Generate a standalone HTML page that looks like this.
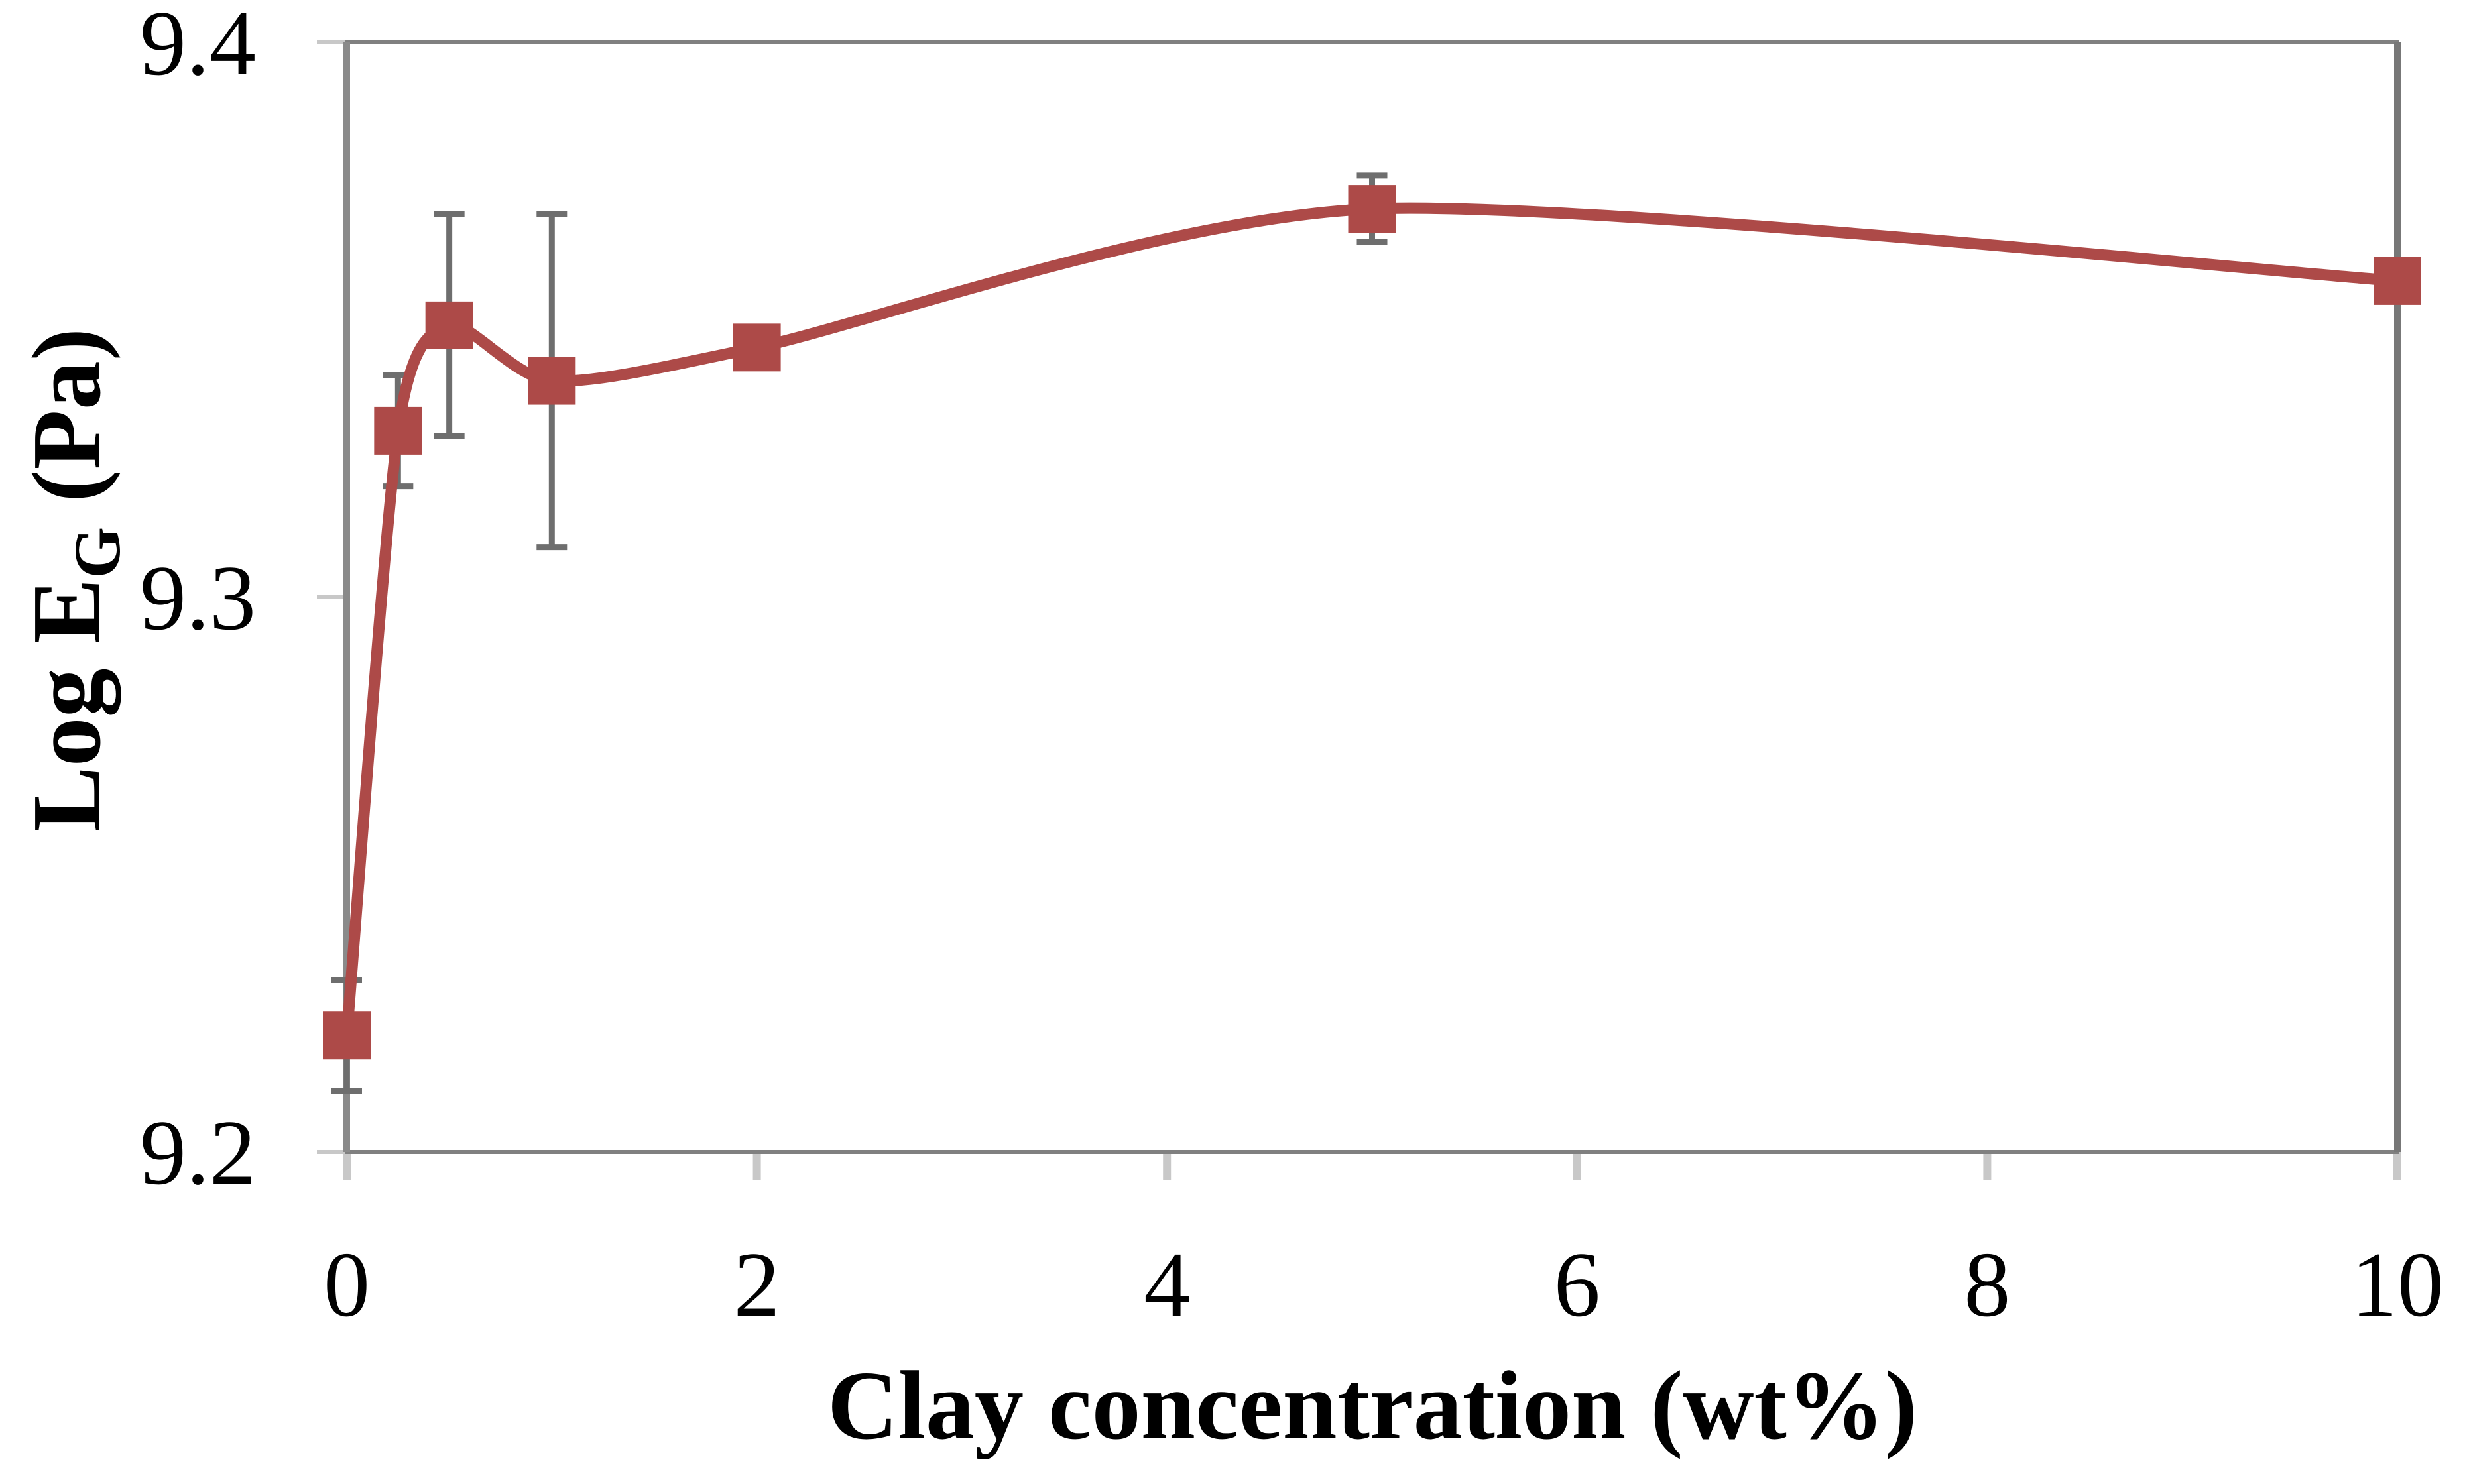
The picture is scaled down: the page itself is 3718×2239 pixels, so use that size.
<!DOCTYPE html>
<html><head><meta charset="utf-8"><style>
html,body{margin:0;padding:0;background:#fff;}
svg{display:block;}
</style></head><body>
<svg id="chart" width="3718" height="2239" viewBox="0 0 3718 2239" xmlns="http://www.w3.org/2000/svg">
<rect x="0" y="0" width="3718" height="2239" fill="#fff"/>
<g id="axes"></g>
<g id="series"></g>
<text x="2070" y="2170" text-anchor="middle" font-family="Liberation Serif, serif" font-weight="bold" font-size="148" fill="#000">Clay concentration (wt%)</text>
<text transform="translate(150,875) rotate(-90)" text-anchor="middle" font-family="Liberation Serif, serif" font-weight="bold" font-size="148" fill="#000">Log E<tspan font-size="100" dy="30">G</tspan><tspan dy="-30"> (Pa)</tspan></text>
</svg>
<script>
const xValues = [0, 0.25, 0.5, 1, 2, 5, 10];
const yValues = [9.221, 9.33, 9.349, 9.339, 9.345, 9.37, 9.357];
const yErrors = [0.01, 0.01, 0.02, 0.03, 0, 0.006, 0];
const xTicks = [0, 2, 4, 6, 8, 10];
const yTicks = [9.2, 9.3, 9.4];
const yTickLabels = ["9.2", "9.3", "9.4"];

const L=523, R=3616, T=64, B=1738;
const xMin=0, xMax=10, yMin=9.2, yMax=9.4;
function sx(v){return L+(v-xMin)/(xMax-xMin)*(R-L);}
function sy(v){return B-(v-yMin)/(yMax-yMin)*(B-T);}
const NS="http://www.w3.org/2000/svg";
function mk(tag,attrs,parent){const e=document.createElementNS(NS,tag);for(const k in attrs)e.setAttribute(k,attrs[k]);parent.appendChild(e);return e;}
const axes=document.getElementById('axes');
const series=document.getElementById('series');

yTicks.forEach((t,i)=>{
  const y=sy(t);
  const tk=mk('line',{x1:L-45,x2:L,y1:y,y2:y,stroke:'#c8c8c8','stroke-width':6},axes);
  
  
  const lb=mk('text',{x:386,y:y+48,'text-anchor':'end','font-family':'Liberation Serif, serif','font-size':140,fill:'#000'},axes);
  lb.textContent=yTickLabels[i];
  
  
});
xTicks.forEach(t=>{
  const x=sx(t);
  const tk=mk('line',{x1:x,x2:x,y1:B,y2:B+42,stroke:'#c8c8c8','stroke-width':12},axes);
  
  
  const lb=mk('text',{x:x,y:1985,'text-anchor':'middle','font-family':'Liberation Serif, serif','font-size':140,fill:'#000'},axes);
  lb.textContent=String(t);
  
  
});
const frame=mk('rect',{x:L,y:T,width:R-L,height:B-T,fill:'none',stroke:'#808080','stroke-width':6},axes);


const ly=mk('line',{x1:L,x2:L,y1:T,y2:B,stroke:'#8a8a8a','stroke-width':10},axes);


const ry=mk('line',{x1:R,x2:R,y1:T,y2:B,stroke:'#777','stroke-width':10},axes);



xValues.forEach((xv,i)=>{
  if(!yErrors[i])return;
  const x=sx(xv),y1=sy(yValues[i]-yErrors[i]),y2=sy(yValues[i]+yErrors[i]);
  const g=mk('g',{stroke:'#6e6e6e','stroke-width':9},series);
  
  
  mk('line',{x1:x,x2:x,y1:y1,y2:y2},g);
  mk('line',{x1:x-23,x2:x+23,y1:y1,y2:y1},g);
  mk('line',{x1:x-23,x2:x+23,y1:y2,y2:y2},g);
});

const pts=xValues.map((v,i)=>[sx(v),sy(yValues[i])]);
let d=`M${pts[0][0]},${pts[0][1]}`;
for(let i=0;i<pts.length-1;i++){
  const p0=pts[i-1]||pts[i],p1=pts[i],p2=pts[i+1],p3=pts[i+2]||p2;
  const k=8;
  const c1=[p1[0]+(p2[0]-p0[0])/k,p1[1]+(p2[1]-p0[1])/k];
  const c2=[p2[0]-(p3[0]-p1[0])/k,p2[1]-(p3[1]-p1[1])/k];
  d+=` C${c1[0]},${c1[1]} ${c2[0]},${c2[1]} ${p2[0]},${p2[1]}`;
}
const line=mk('path',{d:d,fill:'none',stroke:'#ad4a48','stroke-width':17,'stroke-linejoin':'round'},series);



pts.forEach(p=>{
  const m=mk('rect',{x:p[0]-36,y:p[1]-36,width:72,height:72,fill:'#ad4a48'},series);
  
  
});
</script>
</body></html>
